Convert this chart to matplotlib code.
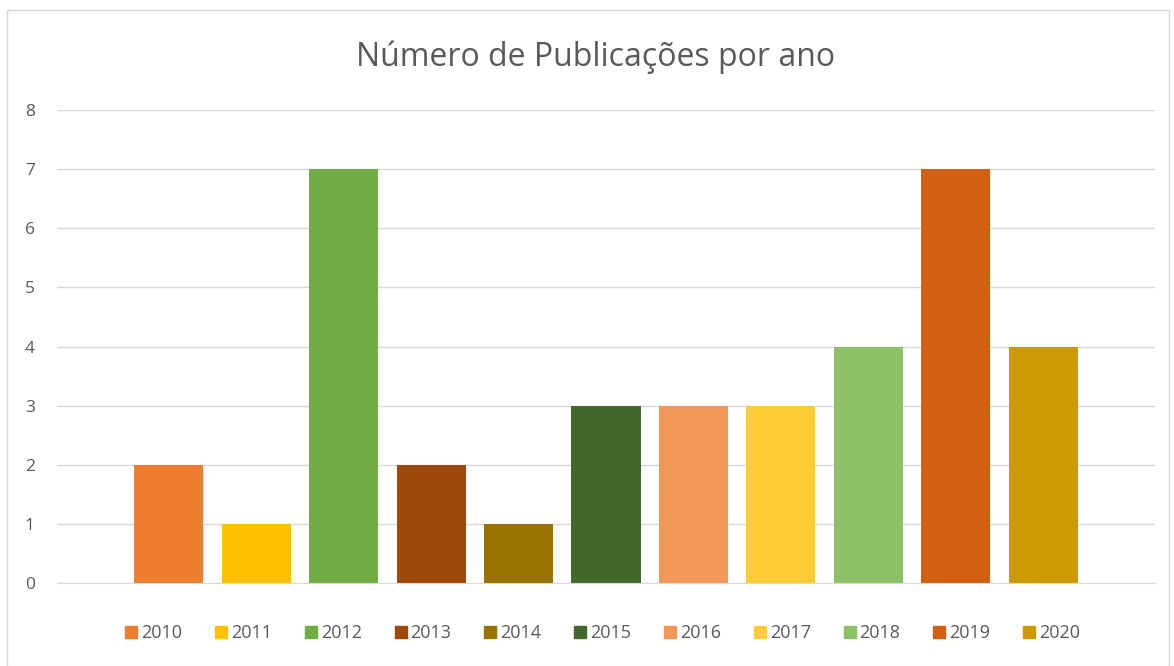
import numpy as np
import matplotlib.pyplot as plt
from matplotlib.patches import Rectangle
from matplotlib.lines import Line2D

#%% data
anos = ["2010", "2011", "2012", "2013", "2014", "2015", "2016", "2017", "2018", "2019", "2020"]
publicacoes = [2, 1, 7, 2, 1, 3, 3, 3, 4, 7, 4]
cores = ["#ED7D31", "#FFC000", "#70AD47", "#9E480E", "#997300", "#43682B",
         "#F1975A", "#FFCD33", "#8CC168", "#D26012", "#CC9A00"]

plt.rcParams["font.family"] = ["Open Sans", "DejaVu Sans"]
cinza = "#595959"

#%% plot
fig = plt.figure(figsize=(11.74, 6.66), dpi=100)
ax = fig.add_axes([0.0486, 0.1246, 0.9352, 0.7102])

x = np.arange(len(anos))
ax.bar(x, publicacoes, width=0.79, color=cores, zorder=2)

ax.set_ylim(0, 8)
ax.set_xlim(-1.28, len(anos) - 1 + 1.28)
ax.set_yticks(range(0, 9))
ax.set_xticks([])
ax.grid(axis="y", color="#d9d9d9", linewidth=1, zorder=0)
for s in ["top", "right", "left"]:
    ax.spines[s].set_visible(False)
ax.spines["bottom"].set_color("#d9d9d9")
ax.tick_params(axis="y", length=0, pad=16, labelsize=12.5, labelcolor=cinza)

fig.text(0.507, 0.914, "Número de Publicações por ano", ha="center", va="center",
         fontsize=23, color=cinza)

handles = [Line2D([], [], marker="s", linestyle="", markersize=9, color=c) for c in cores]
fig.legend(handles, anos, loc="center", bbox_to_anchor=(0.512, 0.049), ncol=len(anos),
           frameon=False, fontsize=13, labelcolor=cinza, handletextpad=0.05,
           columnspacing=1.65, handlelength=1.0)

# moldura do gráfico
fig.patches.append(Rectangle((0.006, 0.0), 0.99, 0.985, transform=fig.transFigure,
                             fill=False, edgecolor="#d9d9d9", linewidth=1))

plt.savefig("out.png", dpi=100)
